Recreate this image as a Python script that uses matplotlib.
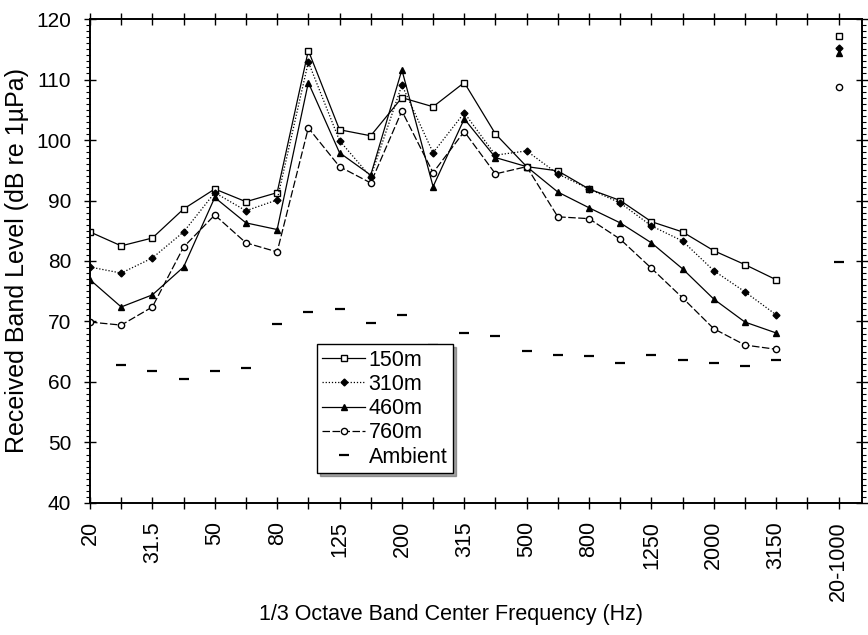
import numpy as np
import matplotlib
matplotlib.use("Agg")
from matplotlib import pyplot as plt
from matplotlib.ticker import MultipleLocator

plt.rcParams['font.family'] = ['Liberation Sans', 'DejaVu Sans']

# 1/3 octave band centre frequencies (Hz)
bandas = ['20', '25', '31.5', '40', '50', '63', '80', '100', '125', '160',
          '200', '250', '315', '400', '500', '630', '800', '1000', '1250',
          '1600', '2000', '2500', '3150']
banda_larga = '20-1000'

nivel_150 = [84.8, 82.5, 83.8, 88.6, 91.9, 89.8, 91.3, 114.8, 101.7, 100.7,
             107.0, 105.5, 109.5, 101.0, 95.6, 94.9, 91.9, 90.0, 86.5, 84.8,
             81.7, 79.4, 76.9]
nivel_310 = [79.0, 78.0, 80.5, 84.8, 91.3, 88.3, 90.1, 112.9, 99.9, 93.9,
             109.1, 97.9, 104.5, 97.5, 98.2, 94.4, 91.9, 89.6, 85.8, 83.3,
             78.4, 74.9, 71.1]
nivel_460 = [76.9, 72.4, 74.4, 79.0, 90.5, 86.3, 85.2, 109.5, 97.9, 94.2,
             111.6, 92.3, 103.5, 97.1, 95.6, 91.4, 88.8, 86.3, 83.0, 78.7,
             73.7, 69.9, 68.1]
nivel_760 = [69.9, 69.4, 72.4, 82.3, 87.6, 83.0, 81.5, 102.0, 95.6, 92.9,
             104.8, 94.6, 101.4, 94.4, 95.6, 87.3, 87.0, 83.6, 78.8, 73.9,
             68.8, 66.1, 65.4]
# ambient has no value at 20 Hz
ambiente = [np.nan, 62.8, 61.8, 60.5, 61.8, 62.3, 69.5, 71.6, 72.1, 69.8,
            71.0, 66.1, 68.1, 67.6, 65.2, 64.5, 64.3, 63.2, 64.5, 63.7,
            63.2, 62.7, 63.7]

# broadband (20-1000 Hz) levels
larga_150 = 117.2
larga_310 = 115.2
larga_460 = 114.4
larga_760 = 108.8
larga_ambiente = 79.8

x = np.arange(len(bandas))
x_larga = len(bandas) + 1

grafico = plt.figure(figsize=(8.68, 6.35), dpi=100)
ax = grafico.add_axes([0.1037, 0.208, 0.8893, 0.762])

series = [
    ('150m', nivel_150, larga_150, dict(marker='s', mfc='white', ms=4.5, ls='-')),
    ('310m', nivel_310, larga_310, dict(marker='D', mfc='black', ms=3.5, ls=(0, (1, 1.5)))),
    ('460m', nivel_460, larga_460, dict(marker='^', mfc='black', ms=5, ls='-')),
    ('760m', nivel_760, larga_760, dict(marker='o', mfc='white', ms=4.5, ls=(0, (6, 2)))),
]
for nome, valores, larga, estilo in series:
    ax.plot(x, valores, color='black', lw=0.9, mec='black', mew=1.0,
            label=nome, **estilo)
    estilo_ponto = dict(estilo)
    estilo_ponto['ls'] = 'none'
    ax.plot([x_larga], [larga], color='black', mec='black', mew=1.0, **estilo_ponto)

ax.plot(np.append(x, x_larga), ambiente + [larga_ambiente], ls='none',
        marker='_', ms=7, mew=1.6, color='black', label='Ambient')

ax.set_xlim(0, 24.75)
ax.set_ylim(40, 120)

ax.set_xticks(np.arange(0, x_larga + 1))
rotulos = []
for i in range(x_larga + 1):
    if i < len(bandas) and i % 2 == 0:
        rotulos.append(bandas[i])
    elif i == x_larga:
        rotulos.append(banda_larga)
    else:
        rotulos.append('')
ax.set_xticklabels(rotulos, rotation=90, fontsize=15.5)

ax.yaxis.set_major_locator(MultipleLocator(10))
ax.yaxis.set_minor_locator(MultipleLocator(1))
ax.tick_params(axis='y', labelsize=15, pad=9)
ax.tick_params(which='major', direction='inout', length=9, width=1,
               top=True, right=True)
ax.tick_params(which='minor', direction='out', length=3, width=0.8,
               left=True, right=True)
ax.tick_params(axis='x', which='major', pad=8.5)

for lado in ax.spines.values():
    lado.set_linewidth(1.4)

ax.set_xlabel('1/3 Octave Band Center Frequency (Hz)', fontsize=15.5)
ax.xaxis.set_label_coords(0.468, -0.209)
ax.set_ylabel('Received Band Level (dB re 1\u00b5Pa)', fontsize=18)
ax.yaxis.set_label_coords(-0.079, 0.5)

legenda = ax.legend(loc='lower left', bbox_to_anchor=(0.294, 0.062),
                    fontsize=15.5, frameon=True, fancybox=False, shadow=True,
                    edgecolor='black', handlelength=2.0, handletextpad=0.15,
                    borderpad=0.25, labelspacing=0.15, borderaxespad=0)
legenda.get_frame().set_linewidth(1.0)

plt.savefig('out.png', dpi=100)
